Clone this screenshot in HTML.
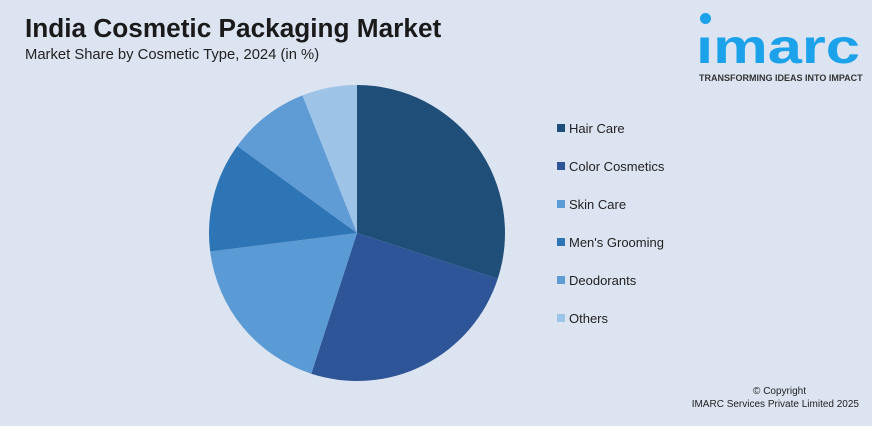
<!DOCTYPE html>
<html><head><meta charset="utf-8"><style>
body{margin:0;width:877px;height:431px;overflow:hidden;background:#fff;font-family:"Liberation Sans",sans-serif}
#bg{position:absolute;left:0;top:0;width:872px;height:426px;background:#dce4f1}
.t{position:absolute;white-space:nowrap}
</style></head><body>
<div id="bg"></div>
<div class="t" style="left:25px;top:13px;font-size:26.2px;font-weight:bold;color:#1a1a1a">India Cosmetic Packaging Market</div>
<div class="t" style="left:25px;top:47px;font-size:14.8px;color:#222">Market Share by Cosmetic Type, 2024 (in %)</div>
<div style="position:absolute;left:690px;top:8px;width:180px;height:80px">
<div style="position:absolute;left:10px;top:5px;width:11px;height:11px;border-radius:50%;background:#1ba2ea"></div>
<div class="t" style="left:6px;top:12px;font-size:48px;font-weight:bold;color:#1ba2ea;transform:scaleX(1.28);transform-origin:0 0">ımarc</div>
<div class="t" style="left:9px;top:65px;font-size:9px;font-weight:bold;color:#333">TRANSFORMING IDEAS INTO IMPACT</div>
</div>
<svg id="pie" width="877" height="431" style="position:absolute;left:0;top:0"></svg>
<div class="t" style="right:71px;top:386px;font-size:10px;color:#222">© Copyright</div>
<div class="t" style="right:18px;top:399px;font-size:10px;color:#222">IMARC Services Private Limited 2025</div>
<script>
const categories=["Hair Care","Color Cosmetics","Skin Care","Men's Grooming","Deodorants","Others"];
const values=[30,25,18,12,9,6];
const colors=["#1f4e79","#2e5597","#5b9bd5","#2e75b6","#5f9bd4","#9dc3e6"];
const svg=document.getElementById('pie');
const NS='http://www.w3.org/2000/svg';
const cx=357,cy=233,r=148;
const total=values.reduce((a,b)=>a+b,0);
let a0=0;
values.forEach((v,i)=>{
  const a1=a0+v/total*2*Math.PI;
  const x0=cx+r*Math.sin(a0),y0=cy-r*Math.cos(a0),x1=cx+r*Math.sin(a1),y1=cy-r*Math.cos(a1);
  const p=document.createElementNS(NS,'path');
  p.setAttribute('d',`M${cx},${cy}L${x0},${y0}A${r},${r} 0 ${a1-a0>Math.PI?1:0} 1 ${x1},${y1}Z`);
  p.setAttribute('fill',colors[i]);
  
  
  svg.appendChild(p);
  a0=a1;
  const g=document.createElementNS(NS,'g');
  
  
  const y=128+i*38;
  const s=document.createElementNS(NS,'rect');
  s.setAttribute('x',557);s.setAttribute('y',y-4);s.setAttribute('width',8);s.setAttribute('height',8);s.setAttribute('fill',colors[i]);
  const t=document.createElementNS(NS,'text');
  t.setAttribute('x',569);t.setAttribute('y',y+5);t.setAttribute('font-size',13);t.setAttribute('fill','#222');
  t.setAttribute('font-family','Liberation Sans, sans-serif');
  t.textContent=categories[i];
  g.appendChild(s);g.appendChild(t);svg.appendChild(g);
});
</script>
</body></html>
